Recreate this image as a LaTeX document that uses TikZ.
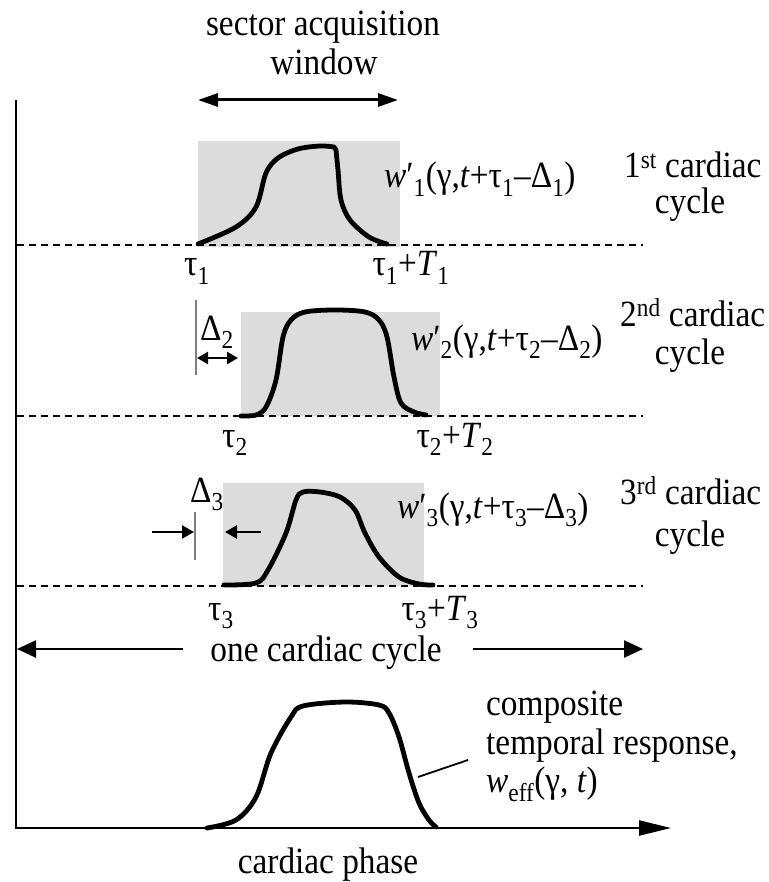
\documentclass[tikz,border=0pt]{standalone}
\usepackage{fontspec}
\setmainfont{Liberation Serif}[FakeStretch=0.9]
\usetikzlibrary{arrows.meta}
\definecolor{boxgray}{RGB}{220,220,220}
\newcommand{\sbx}[1]{\textsubscript{#1}}
\begin{document}
\begin{tikzpicture}[x=1pt,y=-1pt]
\tikzset{
  txt/.style={font=\fontsize{37}{38}\selectfont, inner sep=0pt, anchor=base},
  lab/.style={txt, anchor=base west},
  dashline/.style={line width=1.8pt, dash pattern=on 7pt off 5pt},
  resp/.style={line width=4.8pt, line cap=round, line join=round},
  axisline/.style={line width=2.2pt},
  gline/.style={draw=gray, line width=1.5pt},
  bigarrow/.style={line width=2.5pt, -{Triangle[length=19pt,width=17pt]}},
  winarrow/.style={line width=3pt, {Triangle[length=20pt,width=13pt]}-{Triangle[length=20pt,width=13pt]}},
  smallarrow/.style={line width=2.5pt, -{Triangle[length=12pt,width=13pt]}}
}
\useasboundingbox (0,0) rectangle (768,882);

% acquisition windows (gray boxes)
\fill[boxgray] (198,141) rectangle (400,247);
\fill[boxgray] (241,312) rectangle (440,416);
\fill[boxgray] (223,483) rectangle (424,586);

% dashed baselines
\coordinate (d1l) at (17,245); \coordinate (d1r) at (643,245);
\coordinate (d2l) at (17,416); \coordinate (d2r) at (643,416);
\coordinate (d3l) at (17,586); \coordinate (d3r) at (643,586);
\draw[dashline] (d1l) -- (d1r);
\draw[dashline] (d2l) -- (d2r);
\draw[dashline] (d3l) -- (d3r);

% axes
\coordinate (ytop) at (16,100);
\coordinate (orig) at (16,828);
\coordinate (xend) at (671,828);
\draw[axisline, -{Triangle[length=32pt,width=15pt]}] (ytop) -- (orig) -- (xend);

% response curves
\draw[resp] plot[smooth, tension=0.55] coordinates {(198,244) (236,227) (256,207) (266,173) (278,158) (298,149) (320,146) (334,147)}
  -- plot[smooth, tension=0.55] coordinates {(336,150) (338,170) (341,200) (350,220) (369,237) (387,244)};
\draw[resp] plot[smooth, tension=0.55] coordinates {(241,416) (256,415) (266,407) (276,380) (283,337) (291,320) (305,312) (335,310) (365,312) (379,320) (387,337) (394,377) (401,403) (414,412) (426,415)};
\draw[resp] plot[smooth, tension=0.55] coordinates {(224,585) (256,583) (268,570) (286,533) (296,500) (303,492) (320,492) (340,497) (355,510) (365,533) (379,557) (399,577) (419,584) (433,585)};
\draw[resp] plot[smooth, tension=0.55] coordinates {(207,828) (236,820) (256,797) (271,753) (291,717) (303,706) (345,702) (379,705) (389,713) (399,737) (409,773) (419,803) (429,820) (436,827)};

% sector acquisition window
\node[txt] (title1) at (323,36) {sector acquisition};
\node[txt] (title2) at (324,75) {window};
\coordinate (wa) at (198,100); \coordinate (wb) at (398,100);
\draw[winarrow] (wa) -- (wb);

% cycle 1 labels
\node[txt] (t1) at (197,276) {τ\sbx{1}};
\node[txt] (t1T) at (411,276) {τ\sbx{1}+\textit{T}\sbx{1}};
\node[lab] (w1) at (384,188) {\textit{w}′\sbx{1}(γ,\textit{t}+τ\sbx{1}–Δ\sbx{1})};
\node[lab] (c1a) at (624,178) {1\textsuperscript{st} cardiac};
\node[txt] (c1b) at (690,214) {cycle};

% cycle 2 labels
\coordinate (g2a) at (196,300); \coordinate (g2b) at (196,375);
\draw[gline] (g2a) -- (g2b);
\node[txt] (D2) at (217,340) {Δ\sbx{2}};
\coordinate (a2l) at (197,358); \coordinate (a2r) at (238,358);
\draw[line width=2.5pt, {Triangle[length=11pt,width=12pt]}-{Triangle[length=11pt,width=12pt]}] (a2l) -- (a2r);
\node[txt] (t2) at (235,447) {τ\sbx{2}};
\node[txt] (t2T) at (455,447) {τ\sbx{2}+\textit{T}\sbx{2}};
\node[lab] (w2) at (411,350) {\textit{w}′\sbx{2}(γ,\textit{t}+τ\sbx{2}–Δ\sbx{2})};
\node[lab] (c2a) at (620,326) {2\textsuperscript{nd} cardiac};
\node[txt] (c2b) at (690,364) {cycle};

% cycle 3 labels
\coordinate (g3a) at (195,512); \coordinate (g3b) at (195,560);
\draw[gline] (g3a) -- (g3b);
\node[txt] (D3) at (207,502) {Δ\sbx{3}};
\coordinate (a3s) at (152,532); \coordinate (a3e) at (194,532);
\coordinate (b3s) at (261,532); \coordinate (b3e) at (225,532);
\draw[smallarrow] (a3s) -- (a3e);
\draw[smallarrow] (b3s) -- (b3e);
\node[txt] (t3) at (221,620) {τ\sbx{3}};
\node[txt] (t3T) at (440,620) {τ\sbx{3}+\textit{T}\sbx{3}};
\node[lab] (w3) at (397,518) {\textit{w}′\sbx{3}(γ,\textit{t}+τ\sbx{3}–Δ\sbx{3})};
\node[lab] (c3a) at (620,504) {3\textsuperscript{rd} cardiac};
\node[txt] (c3b) at (690,546) {cycle};

% one cardiac cycle
\node[txt] (one) at (326,661) {one cardiac cycle};
\coordinate (ol) at (183,649); \coordinate (olt) at (17,649);
\coordinate (or) at (473,649); \coordinate (ort) at (643,649);
\draw[bigarrow] (ol) -- (olt);
\draw[bigarrow] (or) -- (ort);

% composite response
\node[lab] (comp1) at (486,715) {composite};
\node[lab] (comp2) at (486,754) {temporal response,};
\node[lab] (comp3) at (486,792) {\textit{w}\sbx{eff}(γ, \textit{t})};
\coordinate (ld1) at (468,760); \coordinate (ld2) at (418,777);
\draw[line width=1.8pt] (ld1) -- (ld2);

% x-axis label
\node[txt] (phase) at (328,873) {cardiac phase};
\end{tikzpicture}
\end{document}
